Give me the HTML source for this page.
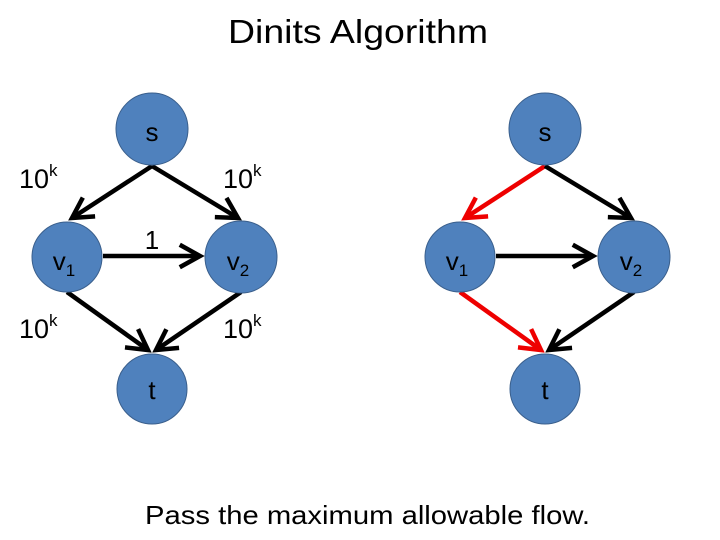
<!DOCTYPE html>
<html><head><style>
body{margin:0;width:720px;height:540px;background:#fff;overflow:hidden}
svg{display:block}
text{font-family:"Liberation Sans",sans-serif}
</style></head><body>
<svg width="720" height="540" viewBox="0 0 720 540">
<defs>
<marker id="ab" markerWidth="6" markerHeight="6" refX="5" refY="3" orient="auto" markerUnits="strokeWidth"><path d="M0.5,0.5 L5,3 L0.5,5.5" fill="none" stroke="#000" stroke-width="1"/></marker>
<marker id="ar" markerWidth="6" markerHeight="6" refX="5" refY="3" orient="auto" markerUnits="strokeWidth"><path d="M0.5,0.5 L5,3 L0.5,5.5" fill="none" stroke="#e00" stroke-width="1"/></marker>
</defs>
<text x="228" y="43" font-size="33" textLength="260" lengthAdjust="spacingAndGlyphs">Dinits Algorithm</text>
<g stroke-width="4.5" fill="none">
<line x1="152" y1="166" x2="72" y2="218" stroke="#000" marker-end="url(#ab)"/>
<line x1="152" y1="166" x2="238" y2="218" stroke="#000" marker-end="url(#ab)"/>
<line x1="103" y1="256" x2="200" y2="256" stroke="#000" marker-end="url(#ab)"/>
<line x1="67" y1="292" x2="148" y2="350" stroke="#000" marker-end="url(#ab)"/>
<line x1="241" y1="292" x2="156" y2="350" stroke="#000" marker-end="url(#ab)"/>
<line x1="545" y1="166" x2="465" y2="218" stroke="#e00" marker-end="url(#ar)"/>
<line x1="545" y1="166" x2="631" y2="218" stroke="#000" marker-end="url(#ab)"/>
<line x1="496" y1="256" x2="593" y2="256" stroke="#000" marker-end="url(#ab)"/>
<line x1="460" y1="292" x2="541" y2="350" stroke="#e00" marker-end="url(#ar)"/>
<line x1="634" y1="292" x2="549" y2="350" stroke="#000" marker-end="url(#ab)"/>
</g>
<g fill="#4f81bd" stroke="#3a5f8c" stroke-width="1">
<circle cx="152" cy="129" r="36"/><circle cx="67" cy="257" r="35"/><circle cx="241" cy="257" r="36"/><circle cx="152" cy="389" r="35"/>
<circle cx="545" cy="129" r="36"/><circle cx="460" cy="257" r="35"/><circle cx="634" cy="257" r="36"/><circle cx="545" cy="389" r="35"/>
</g>
<g font-size="26" fill="#000" text-anchor="middle">
<text x="152" y="141">s</text><text x="545" y="141">s</text>
<text x="152" y="399">t</text><text x="545" y="399">t</text>
<text x="64" y="270">v<tspan font-size="17" dy="6">1</tspan></text>
<text x="238" y="270">v<tspan font-size="17" dy="6">2</tspan></text>
<text x="457" y="270">v<tspan font-size="17" dy="6">1</tspan></text>
<text x="631" y="270">v<tspan font-size="17" dy="6">2</tspan></text>
<text x="152" y="249">1</text>
</g>
<g font-size="27" fill="#000">
<text x="19" y="188">10<tspan font-size="17" dy="-12">k</tspan></text>
<text x="223" y="188">10<tspan font-size="17" dy="-12">k</tspan></text>
<text x="19" y="338">10<tspan font-size="17" dy="-12">k</tspan></text>
<text x="223" y="338">10<tspan font-size="17" dy="-12">k</tspan></text>
</g>
<text x="145" y="524" font-size="26" textLength="445" lengthAdjust="spacingAndGlyphs">Pass the maximum allowable flow.</text>
</svg>
</body></html>
